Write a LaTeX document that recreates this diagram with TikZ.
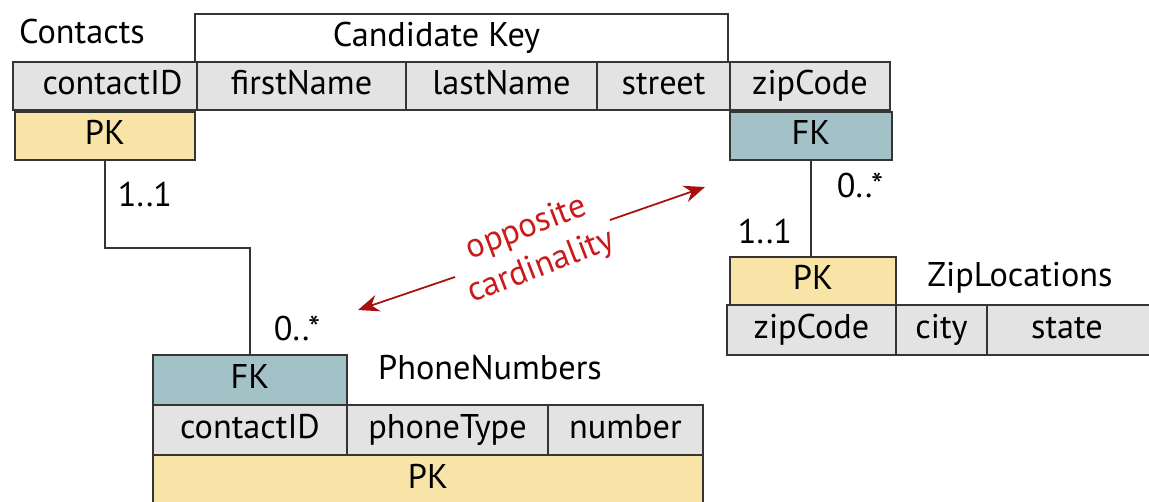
\documentclass[tikz,border=0pt]{standalone}
\usepackage{fontspec}
\setmainfont{PT Sans}
\usetikzlibrary{arrows.meta}

\definecolor{hdgrey}{HTML}{E3E3E3}
\definecolor{edgegrey}{HTML}{353535}
\definecolor{pkyellow}{HTML}{F8E4A6}
\definecolor{fkteal}{HTML}{A2C2C8}
\definecolor{arrowred}{HTML}{A81010}
\definecolor{textred}{HTML}{CC1A1A}

\begin{document}
\begin{tikzpicture}[x=0.02cm,y=-0.02cm,
  every node/.style={font=\fontsize{19.5}{23.5}\selectfont},
  cell/.style={draw=edgegrey,line width=1.2pt,fill=hdgrey,anchor=north west,
    inner sep=0pt,outer sep=0pt,minimum height=0.96cm,
    text height=14pt,text depth=4pt},
  pkbox/.style={cell,fill=pkyellow},
  fkbox/.style={cell,fill=fkteal},
  cardlbl/.style={anchor=center},
  link/.style={draw=edgegrey,line width=1.2pt},
  redarrow/.style={arrowred,line width=1pt,-{Stealth[length=4.2mm,width=3.4mm]}}]

\path[use as bounding box,clip] (0,0) rectangle (1149,501);

% Contacts
\node[anchor=west] (contactsT) at (13,32) {Contacts};
\node[cell,fill=white,minimum width=10.66cm] (ckey) at (195,14) {Candidate Key\hspace*{1cm}};
\node[cell,minimum width=3.68cm] (c1) at (13,62) {\hspace*{0.3cm}contactID};
\node[cell,minimum width=4.18cm] (c2) at (197,62) {firstName};
\node[cell,minimum width=3.82cm] (c3) at (406,62) {lastName};
\node[cell,minimum width=2.66cm] (c4) at (597,62) {street};
\node[cell,minimum width=3.2cm] (c5) at (730,62) {zipCode};
\node[pkbox,minimum width=3.6cm] (cpk) at (15,112) {PK};
\node[fkbox,minimum width=3.24cm] (cfk) at (730,112) {FK};

% PhoneNumbers
\node[fkbox,minimum width=3.88cm,minimum height=1cm] (pfk) at (153,355) {FK};
\node (phoneT) at (490,368) {PhoneNumbers};
\node[cell,minimum width=3.88cm,minimum height=1cm] (p1) at (153,405) {contactID};
\node[cell,minimum width=4.02cm,minimum height=1cm] (p2) at (347,405) {phoneType};
\node[cell,minimum width=3.1cm,minimum height=1cm] (p3) at (548,405) {number};
\node[pkbox,minimum width=11cm,minimum height=1cm] (ppk) at (153,455) {PK};

% ZipLocations
\node[pkbox,minimum width=3.32cm] (zpk) at (730,257) {PK};
\node (zipT) at (1020,278) {ZipLocations};
\node[cell,minimum width=3.38cm,minimum height=1cm] (z1) at (727,305) {zipCode};
\node[cell,minimum width=1.82cm,minimum height=1cm] (z2) at (896,305) {city};
\node[cell,minimum width=3.6cm,minimum height=1cm] (z3) at (987,305) {state\hspace*{0.4cm}};

% links and cardinalities
\draw[link] (cpk.south) -- ++(0,88) -| (pfk.north);
\draw[link] (cfk.south) -- (cfk.south |- zpk.north);
\node[cardlbl] (cone) at (145,195) {1..1};
\node[cardlbl] (pmany) at (297,328) {0..*};
\node[cardlbl] (zmany) at (860,185) {0..*};
\node[cardlbl] (zone) at (765,232) {1..1};

% opposite cardinality
\coordinate (tipL) at (358,310);
\coordinate (tipR) at (705,187);
\coordinate (gapL) at (455,277);
\coordinate (gapR) at (610,220);
\draw[redarrow] (gapL) -- (tipL);
\draw[redarrow] (gapR) -- (tipR);
\node[textred,rotate=21,align=center] (oppT) at (534,248) {opposite\\cardinality};

\end{tikzpicture}
\end{document}
